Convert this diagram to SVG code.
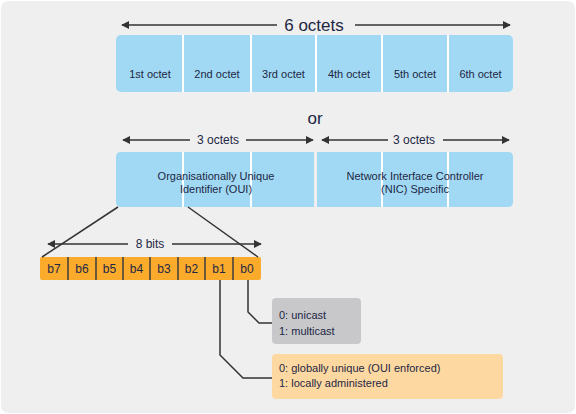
<svg xmlns="http://www.w3.org/2000/svg" width="576" height="414" viewBox="0 0 576 414">
<style>
text{font-family:"Liberation Sans",Arial,sans-serif;fill:#1d2744}
.cell{fill:#a1d9f4}
.div{stroke:#ffffff;stroke-width:2}
.bdiv{stroke:#3d3d3d;stroke-width:1.5}
.ln{stroke:#333333;stroke-width:1.5;fill:none}
.arr{stroke:#333333;stroke-width:1.5;fill:none;marker-end:url(#ah)}
.t11{font-size:11px;text-anchor:middle}
.t12{font-size:12px;text-anchor:middle}
.note{font-size:11px}
</style>
<defs>
<marker id="ah" viewBox="0 0 10 10" refX="9" refY="5" markerWidth="5.5" markerHeight="5.5" orient="auto" markerUnits="strokeWidth">
<path d="M0,0 L10,5 L0,10 z" fill="#333333"/>
</marker>
</defs>
<rect x="0" y="0" width="576" height="414" fill="#ffffff"/>
<rect x="1" y="1" width="574" height="412" rx="7" fill="#efefef"/>

<g id="octets">
<line class="arr" x1="277" y1="25" x2="122" y2="25"/>
<line class="arr" x1="355" y1="25" x2="510" y2="25"/>
<text x="314" y="31" font-size="17" text-anchor="middle">6 octets</text>
<rect class="cell" x="116" y="35" width="397" height="57" rx="5"/>
<line class="div" x1="183" y1="35" x2="183" y2="92"/>
<line class="div" x1="251" y1="35" x2="251" y2="92"/>
<line class="div" x1="316" y1="35" x2="316" y2="92"/>
<line class="div" x1="382" y1="35" x2="382" y2="92"/>
<line class="div" x1="448" y1="35" x2="448" y2="92"/>
<text class="t11" x="150" y="78">1st octet</text>
<text class="t11" x="217" y="78">2nd octet</text>
<text class="t11" x="283.5" y="78">3rd octet</text>
<text class="t11" x="349" y="78">4th octet</text>
<text class="t11" x="415" y="78">5th octet</text>
<text class="t11" x="480.5" y="78">6th octet</text>
</g>

<text x="315" y="124" font-size="17" text-anchor="middle">or</text>

<g id="oui">
<line class="arr" x1="190" y1="140" x2="123" y2="140"/>
<line class="arr" x1="246" y1="140" x2="313" y2="140"/>
<text class="t12" x="218" y="144">3 octets</text>
<path class="cell" d="M121,152 H314 V207 H121 Q116,207 116,202 V157 Q116,152 121,152 Z"/>
<line class="div" x1="183" y1="152" x2="183" y2="207"/>
<line class="div" x1="251" y1="152" x2="251" y2="207"/>
<text class="t11" x="216" y="180">Organisationally Unique</text>
<text class="t11" x="216" y="193">Identifier (OUI)</text>
</g>

<g id="nic">
<line class="arr" x1="388" y1="140" x2="322" y2="140"/>
<line class="arr" x1="443" y1="140" x2="509" y2="140"/>
<text class="t12" x="414" y="144">3 octets</text>
<path class="cell" d="M317,152 H508 Q513,152 513,157 V202 Q513,207 508,207 H317 Z"/>
<line class="div" x1="382" y1="152" x2="382" y2="207"/>
<line class="div" x1="448" y1="152" x2="448" y2="207"/>
<text class="t11" x="415" y="180">Network Interface Controller</text>
<text class="t11" x="415" y="193">(NIC) Specific</text>
</g>

<g id="bits">
<line class="arr" x1="128" y1="244" x2="48" y2="244"/>
<line class="arr" x1="172" y1="244" x2="261" y2="244"/>
<text class="t12" x="150" y="248">8 bits</text>
<rect x="40" y="257" width="221" height="23" rx="2" fill="#fbab2c"/>
<line class="bdiv" x1="68" y1="257" x2="68" y2="280"/>
<line class="bdiv" x1="96" y1="257" x2="96" y2="280"/>
<line class="bdiv" x1="123" y1="257" x2="123" y2="280"/>
<line class="bdiv" x1="150" y1="257" x2="150" y2="280"/>
<line class="bdiv" x1="178" y1="257" x2="178" y2="280"/>
<line class="bdiv" x1="205" y1="257" x2="205" y2="280"/>
<line class="bdiv" x1="233" y1="257" x2="233" y2="280"/>
<text class="t12" x="54" y="272.5">b7</text>
<text class="t12" x="82" y="272.5">b6</text>
<text class="t12" x="109.5" y="272.5">b5</text>
<text class="t12" x="136.5" y="272.5">b4</text>
<text class="t12" x="164" y="272.5">b3</text>
<text class="t12" x="191.5" y="272.5">b2</text>
<text class="t12" x="219" y="272.5">b1</text>
<text class="t12" x="247" y="272.5">b0</text>
</g>

<g id="note-b0">
<rect x="272" y="298" width="89" height="46" rx="4" fill="#c8c8cb"/>
<text class="note" x="279" y="319">0: unicast</text>
<text class="note" x="279" y="335">1: multicast</text>
</g>

<g id="note-b1">
<rect x="272" y="354" width="231" height="45" rx="4" fill="#fdd9a1"/>
<text class="note" x="279" y="372">0: globally unique (OUI enforced)</text>
<text class="note" x="279" y="387">1: locally administered</text>
</g>

<g id="connectors">
<line class="ln" x1="118" y1="207" x2="42" y2="257"/>
<line class="ln" x1="188" y1="207" x2="258" y2="257"/>
<polyline class="ln" points="248,280 248,312 259,323 272,323"/>
<polyline class="ln" points="220,280 220,355 243,378 272,378"/>
</g>
</svg>
